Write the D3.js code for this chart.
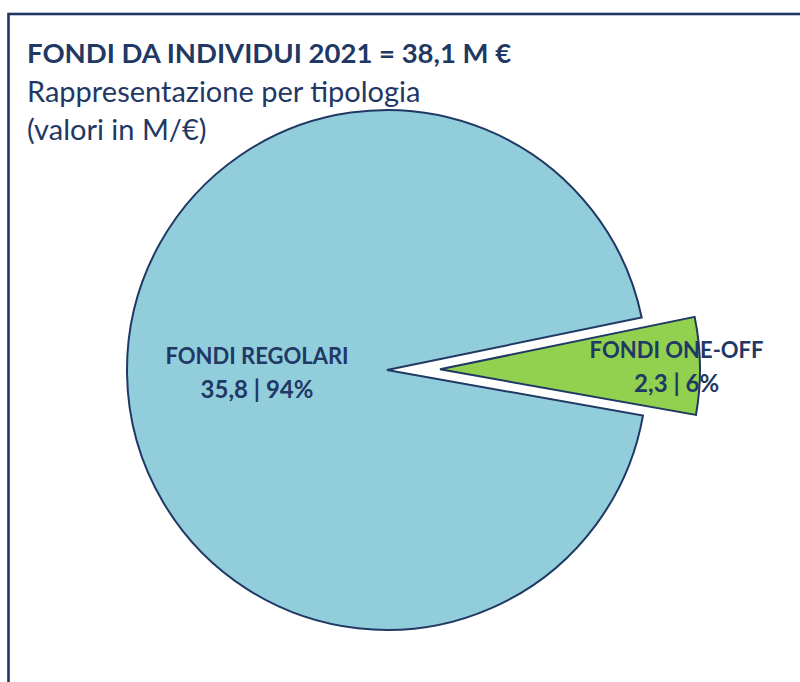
<!DOCTYPE html>
<html>
<head>
<meta charset="utf-8">
<script src="https://cdn.jsdelivr.net/npm/d3@7"></script>
<style>
  body { margin: 0; background: #fff; }
  svg text { font-family: Lato, "Open Sans", sans-serif; fill: #1f3864; }
</style>
</head>
<body>
<div id="chart"></div>
<script>
'use strict'

// chart data
const categories = ["FONDI REGOLARI", "FONDI ONE-OFF"]
const values = [35.8, 2.3]
const shares = ["94%", "6%"]
const colors = ["#92cddc", "#92d050"]
const titleLines = ["FONDI DA INDIVIDUI 2021 = 38,1 M €", "Rappresentazione per tipologia", "(valori in M/€)"]

const width = 800, height = 682
const fmt = d3.format(".1f")

const svg = d3.select("#chart").append("svg")
  .attr("width", width)
  .attr("height", height)

// frame
svg.append("rect")
  .attr("x", 8.5).attr("y", 14)
  .attr("width", 820).attr("height", 700)
  .attr("fill", "none")
  .attr("stroke", "#1f3864")
  .attr("stroke-width", 2.6)

// titles
svg.append("text")
  .attr("x", 27).attr("y", 63)
  .style("font-size", "27.5px")
  .style("font-weight", "bold")
  .text(titleLines[0])

svg.selectAll(".sub")
  .data(titleLines.slice(1))
  .enter().append("text")
    .attr("class", "sub")
    .attr("x", 27)
    .attr("y", (d, i) => 102 + i * 38)
    .style("font-size", "29px")
    .text(d => d)

// pie
const cx = 387, cy = 370, r = 260
const explode = [0, 53]
const labelR = [0.5, 0.91]

const pie = d3.pie().sort(null)
  .startAngle(1.747)
  .endAngle(1.747 + 2 * Math.PI)

const arcs = pie(values)
const arc = d3.arc().innerRadius(0).outerRadius(r)

const g = svg.append("g").attr("transform", "translate(" + cx + "," + cy + ")")

function offset(d, i) {
  let a = (d.startAngle + d.endAngle) / 2
  return [Math.sin(a) * explode[i], -Math.cos(a) * explode[i]]
}

const slice = g.selectAll(".slice")
  .data(arcs)
  .enter().append("g")
    .attr("class", "slice")
    .attr("transform", (d, i) => "translate(" + offset(d, i) + ")")

slice.append("path")
  .attr("d", arc)
  .attr("fill", (d, i) => colors[i])
  .attr("stroke", "#1f3864")
  .attr("stroke-width", 2)
  .attr("stroke-linejoin", "miter")

const label = slice.append("text")
  .attr("transform", function(d, i){
    let c = d3.arc().innerRadius(0).outerRadius(r * labelR[i] * 2).centroid(d)
    return "translate(" + c + ")"
  })
  .attr("text-anchor", "middle")
  .style("font-size", "22px")
  .style("font-weight", "bold")

label.append("tspan")
  .attr("x", 0).attr("dy", "-0.35em")
  .text((d, i) => categories[i])

label.append("tspan")
  .attr("x", 0).attr("dy", "1.4em")
  .style("font-size", "24px")
  .text((d, i) => fmt(d.data).replace(".", ",") + " | " + shares[i])
</script>
</body>
</html>
